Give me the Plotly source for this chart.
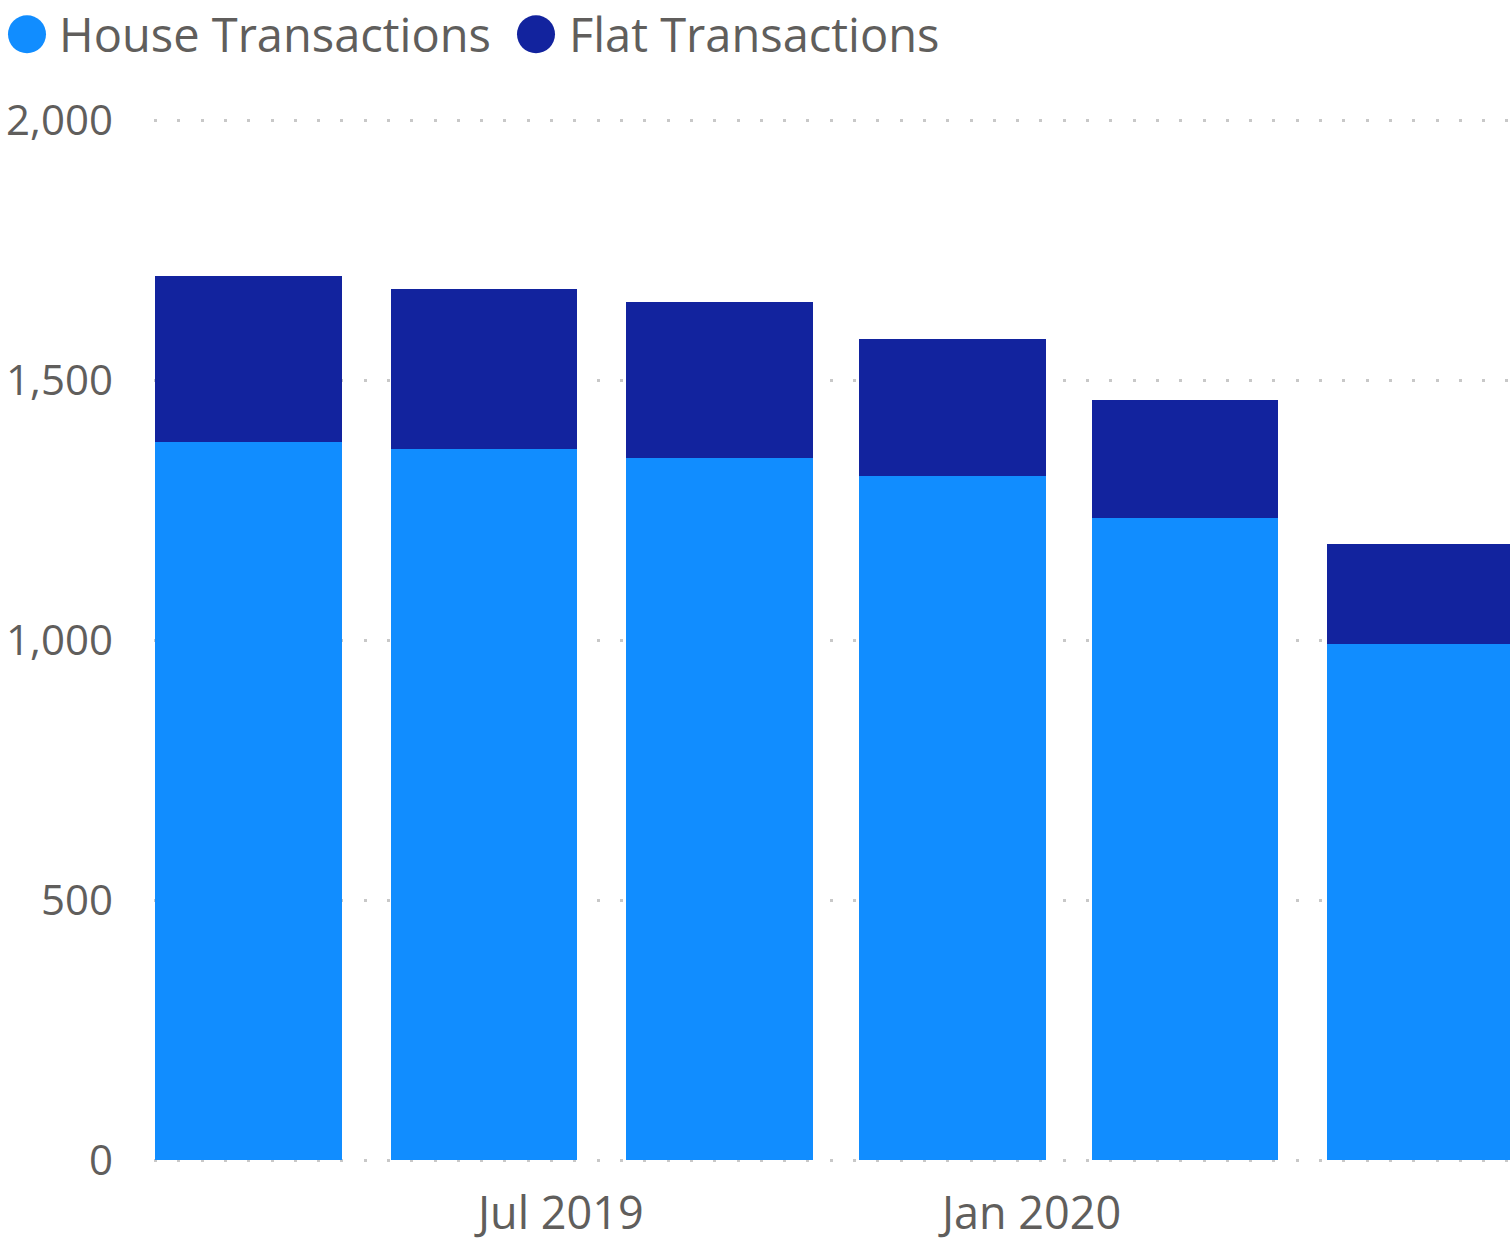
import plotly.graph_objects as go

# quarterly periods (bar centres) and values
periods = ["2019-03-01", "2019-06-01", "2019-09-01", "2019-12-01", "2020-03-01", "2020-06-01"]
house = [1382, 1368, 1351, 1317, 1236, 994]
flat = [320, 308, 300, 263, 227, 192]

tick_vals = ["2019-07-01", "2020-01-01"]
tick_text = ["Jul 2019", "Jan 2020"]

HOUSE_COLOR = "#118DFF"
FLAT_COLOR = "#12239E"
TEXT_COLOR = "#605E5C"
FONT = "Segoe UI, Open Sans, sans-serif"

bar_width_ms = 73 * 24 * 3600 * 1000

fig = go.Figure()
fig.add_bar(x=periods, y=house, name="House Transactions", marker_color=HOUSE_COLOR,
            width=bar_width_ms, marker_line_width=0, showlegend=False)
fig.add_bar(x=periods, y=flat, name="Flat Transactions", marker_color=FLAT_COLOR,
            width=bar_width_ms, marker_line_width=0, showlegend=False)

# plot area: y=0 at ~1163px, y=2000 at ~121px; a small pad keeps the edge gridlines
fig.update_layout(
    width=1510,
    height=1242,
    barmode="stack",
    plot_bgcolor="white",
    paper_bgcolor="white",
    font=dict(family=FONT, color=TEXT_COLOR, size=42),
    margin=dict(t=118, l=154, r=0, b=76),
    showlegend=False,
)

fig.update_xaxes(
    type="date",
    range=["2019-01-23", "2020-07-06"],
    tickvals=tick_vals,
    ticktext=tick_text,
    showgrid=False,
    showline=False,
    zeroline=False,
    ticks="",
    ticklabelstandoff=20,
    tickfont=dict(size=45, color=TEXT_COLOR),
)
fig.update_yaxes(
    range=[-5, 2005],
    tickvals=[0, 500, 1000, 1500, 2000],
    tickformat=",d",
    showgrid=True,
    gridcolor="#C8C8C8",
    gridwidth=3,
    griddash="3px,20.3px",
    zeroline=False,
    showline=False,
    ticks="",
    ticklabelstandoff=40,
    tickfont=dict(size=42, color=TEXT_COLOR),
)

# custom legend with large circle markers
plot_h = 1242 - 118 - 76
legend_items = [("House Transactions", HOUSE_COLOR, 27, 57), ("Flat Transactions", FLAT_COLOR, 536, 567)]
for label, color, cx_px, tx_px in legend_items:
    cx = (cx_px - 154) / 1356
    cy = (1242 - 76 - 34) / plot_h
    fig.add_shape(type="circle", xref="paper", yref="paper", xsizemode="pixel", ysizemode="pixel",
                  xanchor=cx, yanchor=cy, x0=-19, x1=19, y0=-19, y1=19,
                  fillcolor=color, line_width=0)
    fig.add_annotation(text=label, xref="paper", yref="paper", x=(tx_px - 154) / 1356, y=cy,
                       xanchor="left", yanchor="middle", showarrow=False,
                       font=dict(size=47, color=TEXT_COLOR, family=FONT))

fig.write_html("out.html", config={"displayModeBar": False},
               post_script="document.body.style.margin='0';")
